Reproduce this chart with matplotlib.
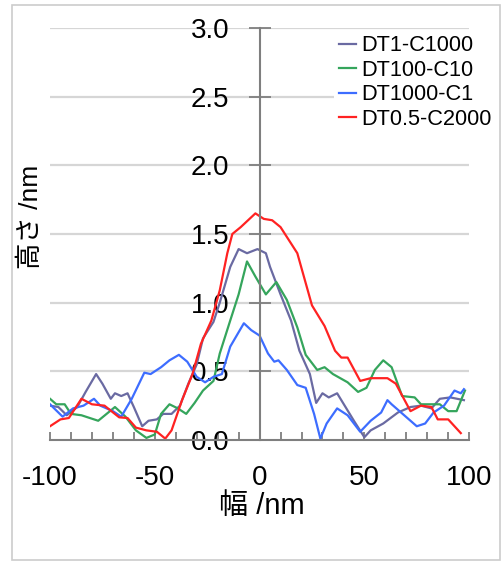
import matplotlib.pyplot as plt
from matplotlib.patches import Rectangle
from matplotlib.ticker import MultipleLocator

plt.rcParams['font.family'] = ['Liberation Sans', 'Noto Sans CJK JP']
plt.rcParams['axes.unicode_minus'] = False

# --- data (width nm, height nm) ---
x_dt1 = [-100, -96, -92, -87, -83, -78, -75, -71, -69, -66, -63, -60, -56, -53, -49, -46, -42, -38, -34,
         -30, -27, -22, -19, -14, -10, -6, -1, 3, 5, 10, 15, 19, 24, 27, 30, 33, 37, 41, 45, 50, 53, 59,
         66, 72, 77, 82, 86, 91, 97.5]
y_dt1 = [0.25, 0.24, 0.18, 0.24, 0.35, 0.48, 0.41, 0.30, 0.34, 0.32, 0.34, 0.24, 0.10, 0.14, 0.15, 0.19,
         0.19, 0.25, 0.41, 0.55, 0.74, 0.86, 1.00, 1.26, 1.39, 1.36, 1.39, 1.36, 1.26, 1.06, 0.87, 0.65,
         0.48, 0.27, 0.34, 0.31, 0.34, 0.24, 0.14, 0.02, 0.07, 0.12, 0.20, 0.24, 0.25, 0.23, 0.30, 0.31, 0.29]

x_dt100 = [-100, -97, -93, -90, -85, -77, -73, -69, -64, -59, -54, -50, -47, -43, -39, -35, -31, -27, -22,
           -19, -14, -10, -6, -2, 3, 8, 13, 18, 22, 27.5, 31, 35, 42, 47, 51, 55, 59, 63, 68, 74, 77, 82,
           86, 90, 94, 98]
y_dt100 = [0.30, 0.26, 0.26, 0.19, 0.18, 0.14, 0.19, 0.24, 0.17, 0.07, 0.015, 0.04, 0.19, 0.26, 0.23, 0.19,
           0.27, 0.36, 0.43, 0.63, 0.87, 1.06, 1.30, 1.19, 1.06, 1.15, 1.02, 0.82, 0.62, 0.51, 0.53, 0.48,
           0.42, 0.35, 0.38, 0.51, 0.58, 0.53, 0.32, 0.31, 0.26, 0.26, 0.26, 0.21, 0.21, 0.36]

x_dt1000 = [-100, -94, -89, -84, -79, -76, -70, -66, -61, -55, -52, -47, -43, -38.5, -34.5, -30, -26, -22,
            -18, -14, -7.5, -4, 0, 4, 7, 9, 13, 18, 22, 26, 29, 32, 37, 42, 48, 53, 58, 61, 63, 69, 75, 79,
            83, 88, 93, 96, 97.5]
y_dt1000 = [0.26, 0.17, 0.23, 0.25, 0.30, 0.25, 0.21, 0.17, 0.30, 0.49, 0.48, 0.53, 0.58, 0.62, 0.57, 0.46,
            0.42, 0.46, 0.48, 0.68, 0.85, 0.80, 0.76, 0.63, 0.57, 0.58, 0.51, 0.40, 0.38, 0.19, 0.01, 0.12,
            0.23, 0.18, 0.06, 0.14, 0.20, 0.29, 0.26, 0.18, 0.10, 0.12, 0.20, 0.25, 0.36, 0.34, 0.37]

x_dt05 = [-100, -95, -91, -85, -80, -74, -67, -63, -59, -54, -49, -45, -42, -37, -32, -28, -23, -19,
          -15.4, -13, -9, -2, 2, 6, 10, 18, 25, 31, 36, 39, 42, 48, 53, 61, 65, 72, 77, 82, 85, 90, 96]
y_dt05 = [0.10, 0.15, 0.16, 0.30, 0.26, 0.25, 0.165, 0.16, 0.09, 0.07, 0.06, 0.01, 0.07, 0.29, 0.48, 0.70,
          0.87, 1.09, 1.36, 1.50, 1.55, 1.65, 1.61, 1.60, 1.55, 1.36, 0.98, 0.83, 0.65, 0.60, 0.60, 0.43,
          0.45, 0.45, 0.41, 0.21, 0.25, 0.24, 0.15, 0.15, 0.05]

series = [
    ('DT1-C1000', x_dt1, y_dt1, '#6a6aa2'),
    ('DT100-C10', x_dt100, y_dt100, '#35a55c'),
    ('DT1000-C1', x_dt1000, y_dt1000, '#3d6dff'),
    ('DT0.5-C2000', x_dt05, y_dt05, '#ff2222'),
]

fig = plt.figure(figsize=(5.02, 5.63), dpi=100)
ax = fig.add_axes([0.0996, 0.2185, 0.8350, 0.7318])

for label, xs, ys, c in series:
    ax.plot(xs, ys, color=c, linewidth=1.6, label=label)

ax.set_xlim(-100, 100)
ax.set_ylim(0, 3.0)

# horizontal grid
for yv in [0.5, 1.0, 1.5, 2.0, 2.5, 3.0]:
    ax.axhline(yv, color='#d6d6d6', linewidth=1.6, zorder=0)

# spines crossing at origin
for s in ['top', 'right']:
    ax.spines[s].set_visible(False)
ax.spines['left'].set_position(('data', 0))
ax.spines['bottom'].set_position(('data', 0))
for s in ['left', 'bottom']:
    ax.spines[s].set_color('#7f7f7f')
    ax.spines[s].set_linewidth(1.5)

ax.xaxis.set_major_locator(MultipleLocator(50))
ax.xaxis.set_minor_locator(MultipleLocator(10))
ax.yaxis.set_major_locator(MultipleLocator(0.5))
ax.set_yticklabels([f'{v:.1f}' for v in ax.get_yticks()])

ax.tick_params(axis='x', which='both', direction='in', length=6, width=1.3, color='#7f7f7f',
               labelsize=20, pad=18)
ax.tick_params(axis='y', direction='inout', length=16, width=1.3, color='#7f7f7f',
               labelsize=20, pad=14)

leg = ax.legend(loc='upper left', fontsize=15.7, frameon=True, fancybox=False,
                handlelength=0.75, handletextpad=0.25, labelspacing=0.16, borderpad=0.25,
                borderaxespad=0, bbox_to_anchor=(334 / 502, 1 - 30 / 563),
                bbox_transform=fig.transFigure)
leg.get_frame().set_facecolor('white')
leg.get_frame().set_edgecolor('none')
leg.get_frame().set_alpha(1)

fig.text(0.522, 0.101, '幅 /nm', ha='center', va='center', fontsize=21)
fig.text(0.062, 0.615, '高さ /nm', ha='center', va='center', rotation=90, fontsize=19)

fig.patches.append(Rectangle((0.024, 0.005), 0.972, 0.986, transform=fig.transFigure,
                             fill=False, edgecolor='#cccccc', linewidth=1.2))

fig.savefig('out.png', dpi=100)
